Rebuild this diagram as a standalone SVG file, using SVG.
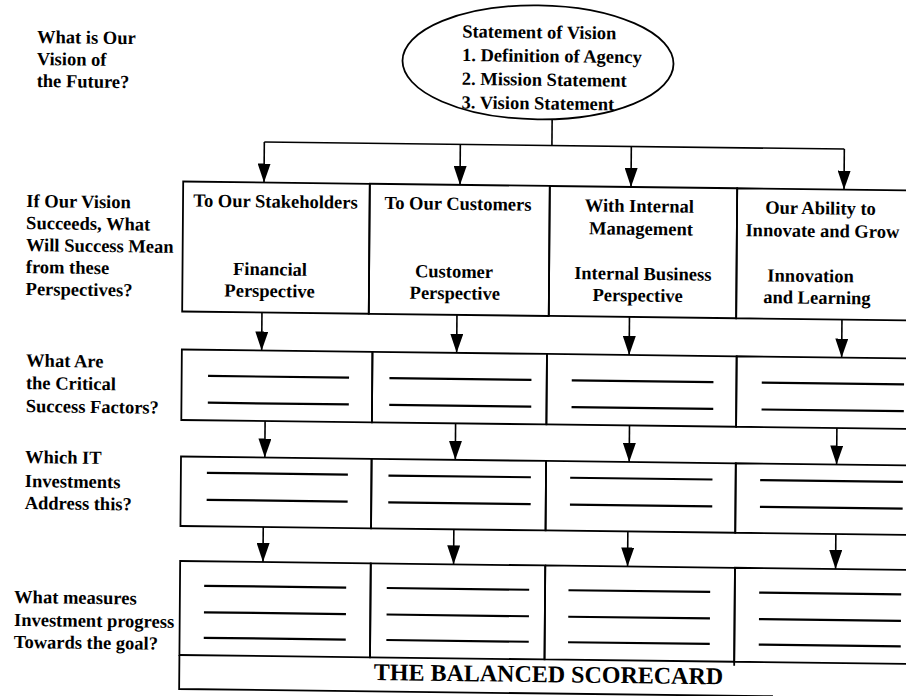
<svg xmlns="http://www.w3.org/2000/svg" width="906" height="696" viewBox="0 0 906 696">
  <defs>
    <marker id="ah" viewBox="0 0 19 13" markerWidth="19" markerHeight="13" refX="19" refY="6.5" orient="auto" markerUnits="userSpaceOnUse">
      <path d="M0,0 L19,6.5 L0,13 z" fill="#000"/>
    </marker>
    <style>
      text { font-family: "Liberation Serif", "Times New Roman", serif; font-weight: bold; font-size: 18.5px; fill: #000; }
      .mid { text-anchor: middle; }
      .banner { font-size: 24px; }
      .box { fill: none; stroke: #000; stroke-width: 1.8; }
      .blank { stroke: #000; stroke-width: 2.2; }
      .conn { fill: none; stroke: #000; stroke-width: 1.6; }
      .arrow { fill: none; stroke: #000; stroke-width: 1.6; marker-end: url(#ah); }
    </style>
  </defs>
  <rect x="0" y="0" width="906" height="696" fill="#fff"/>
  <g transform="matrix(1 0.0122 -0.008 1 1.456 -2.233)">

    <!-- question labels -->
    <g id="q-vision">
      <text x="35.9" y="44.8">What is Our</text>
      <text x="35.9" y="66.8">Vision of</text>
      <text x="35.9" y="88.8">the Future?</text>
    </g>
    <g id="q-success">
      <text x="26.5" y="209">If Our Vision</text>
      <text x="26.5" y="231">Succeeds, What</text>
      <text x="26.5" y="253">Will Success Mean</text>
      <text x="26.5" y="275">from these</text>
      <text x="26.5" y="297">Perspectives?</text>
    </g>
    <g id="q-csf">
      <text x="27.6" y="368.5">What Are</text>
      <text x="27.6" y="391">the Critical</text>
      <text x="27.6" y="414">Success Factors?</text>
    </g>
    <g id="q-it">
      <text x="27.3" y="465">Which IT</text>
      <text x="27.3" y="489">Investments</text>
      <text x="27.3" y="511">Address this?</text>
    </g>
    <g id="q-measures">
      <text x="17.5" y="605">What measures</text>
      <text x="17.5" y="628">Investment progress</text>
      <text x="17.5" y="650">Towards the goal?</text>
    </g>

    <!-- vision ellipse -->
    <g id="vision">
      <ellipse cx="537" cy="58" rx="135.5" ry="57" fill="#fff" stroke="#000" stroke-width="1.8"/>
      <text x="461" y="34">Statement of Vision</text>
      <text x="461" y="57.7">1. Definition of Agency</text>
      <text x="461" y="81.4">2. Mission Statement</text>
      <text x="461" y="105.1">3. Vision Statement</text>
    </g>

    <!-- row 1: perspectives -->
    <g id="persp-financial">
      <rect class="box" x="183.2" y="181.5" width="186.6" height="130"/>
      <text class="mid" x="275.7" y="206.5">To Our Stakeholders</text>
      <text class="mid" x="270.7" y="274.3">Financial</text>
      <text class="mid" x="270.5" y="296">Perspective</text>
    </g>
    <g id="persp-customer">
      <rect class="box" x="369.8" y="181.5" width="180" height="130"/>
      <text class="mid" x="458.2" y="206.5">To Our Customers</text>
      <text class="mid" x="454.7" y="274.3">Customer</text>
      <text class="mid" x="455.7" y="296">Perspective</text>
    </g>
    <g id="persp-internal">
      <rect class="box" x="549.8" y="181.5" width="187.4" height="130"/>
      <text class="mid" x="639.5" y="206.5">With Internal</text>
      <text class="mid" x="641.4" y="229.3">Management</text>
      <text class="mid" x="643.5" y="274.3">Internal Business</text>
      <text class="mid" x="638.5" y="296">Perspective</text>
    </g>
    <g id="persp-innovation">
      <path class="box" d="M915,181.5 H737.2 V311.5 H915"/>
      <text class="mid" x="820.7" y="206.5">Our Ability to</text>
      <text class="mid" x="822.7" y="229.3">Innovate and Grow</text>
      <text class="mid" x="811.3" y="274.3">Innovation</text>
      <text class="mid" x="817.8" y="296">and Learning</text>
    </g>

    <!-- row 2: critical success factors -->
    <g id="csf-1">
      <rect class="box" x="183.2" y="349.5" width="190.6" height="70.5"/>
      <line class="blank" x1="209.6" y1="375.6" x2="350.6" y2="375.6"/>
      <line class="blank" x1="209.6" y1="402.4" x2="350.6" y2="402.4"/>
    </g>
    <g id="csf-2">
      <rect class="box" x="373.8" y="349.5" width="174.5" height="70.5"/>
      <line class="blank" x1="391" y1="375.6" x2="533" y2="375.6"/>
      <line class="blank" x1="391" y1="402.4" x2="533" y2="402.4"/>
    </g>
    <g id="csf-3">
      <rect class="box" x="548.3" y="349.5" width="189.7" height="70.5"/>
      <line class="blank" x1="573.3" y1="375.6" x2="715" y2="375.6"/>
      <line class="blank" x1="573.3" y1="402.4" x2="715" y2="402.4"/>
    </g>
    <g id="csf-4">
      <path class="box" d="M915,349.5 H738 V420 H915"/>
      <line class="blank" x1="763.3" y1="375.6" x2="905.6" y2="375.6"/>
      <line class="blank" x1="763.3" y1="402.4" x2="905.6" y2="402.4"/>
    </g>

    <!-- row 3: IT investments -->
    <g id="it-1">
      <rect class="box" x="183.2" y="456.5" width="190.6" height="69.5"/>
      <line class="blank" x1="209.2" y1="472.5" x2="350.2" y2="472.5"/>
      <line class="blank" x1="209.2" y1="499.5" x2="350.2" y2="499.5"/>
    </g>
    <g id="it-2">
      <rect class="box" x="373.8" y="456.5" width="174.5" height="69.5"/>
      <line class="blank" x1="390.8" y1="473" x2="533.2" y2="473"/>
      <line class="blank" x1="390.8" y1="499.8" x2="533.2" y2="499.8"/>
    </g>
    <g id="it-3">
      <rect class="box" x="548.3" y="456.5" width="189.7" height="69.5"/>
      <line class="blank" x1="572.5" y1="473" x2="714.8" y2="473"/>
      <line class="blank" x1="572.5" y1="499.8" x2="714.8" y2="499.8"/>
    </g>
    <g id="it-4">
      <path class="box" d="M915,456.5 H738 V526 H915"/>
      <line class="blank" x1="762.5" y1="473" x2="905.2" y2="473"/>
      <line class="blank" x1="762.5" y1="499.8" x2="905.2" y2="499.8"/>
    </g>

    <!-- row 4: measures -->
    <g id="measure-1">
      <rect class="box" x="183.2" y="561" width="190.6" height="94"/>
      <line class="blank" x1="207.4" y1="585.5" x2="349.4" y2="585.5"/>
      <line class="blank" x1="207.4" y1="612" x2="349.4" y2="612"/>
      <line class="blank" x1="207.4" y1="637.5" x2="349.4" y2="637.5"/>
    </g>
    <g id="measure-2">
      <rect class="box" x="373.8" y="561" width="174.5" height="94"/>
      <line class="blank" x1="390" y1="585.5" x2="532.4" y2="585.5"/>
      <line class="blank" x1="390" y1="612" x2="532.4" y2="612"/>
      <line class="blank" x1="390" y1="637.5" x2="532.4" y2="637.5"/>
    </g>
    <g id="measure-3">
      <path class="box" d="M548.3,561 H738 V659 M738,655 H548.3 V561"/>
      <line class="blank" x1="571.7" y1="585.5" x2="713.4" y2="585.5"/>
      <line class="blank" x1="571.7" y1="612" x2="713.4" y2="612"/>
      <line class="blank" x1="571.7" y1="637.5" x2="713.4" y2="637.5"/>
    </g>
    <g id="measure-4">
      <path class="box" d="M915,561 H738 V655 H915"/>
      <line class="blank" x1="762.4" y1="585.5" x2="904.4" y2="585.5"/>
      <line class="blank" x1="762.4" y1="612" x2="904.4" y2="612"/>
      <line class="blank" x1="762.4" y1="637.5" x2="904.4" y2="637.5"/>
    </g>

    <!-- banner -->
    <g id="balanced-scorecard">
      <path class="box" d="M183.2,655 V689 H777"/>
      <text class="mid banner" x="552.4" y="677.7">THE BALANCED SCORECARD</text>
    </g>

    <!-- connectors -->
    <g id="connectors">
      <line class="conn" x1="551.6" y1="114.7" x2="551.6" y2="141"/>
      <line class="conn" x1="264" y1="141" x2="844" y2="141"/>
      <line class="arrow" x1="264" y1="141" x2="264" y2="181.5"/>
      <line class="arrow" x1="460" y1="141" x2="460" y2="181.5"/>
      <line class="arrow" x1="631" y1="141" x2="631" y2="181.5"/>
      <line class="arrow" x1="844" y1="141" x2="844" y2="181.5"/>

      <line class="arrow" x1="263" y1="311.5" x2="263" y2="349.5"/>
      <line class="arrow" x1="458" y1="311.5" x2="458" y2="349.5"/>
      <line class="arrow" x1="630.5" y1="311.5" x2="630.5" y2="349.5"/>
      <line class="arrow" x1="843" y1="311.5" x2="843" y2="349.5"/>

      <line class="arrow" x1="267" y1="420" x2="267" y2="456.5"/>
      <line class="arrow" x1="457.5" y1="420" x2="457.5" y2="456.5"/>
      <line class="arrow" x1="631.4" y1="420" x2="631.4" y2="456.5"/>
      <line class="arrow" x1="838.8" y1="420" x2="838.8" y2="456.5"/>

      <line class="arrow" x1="266" y1="526" x2="266" y2="561"/>
      <line class="arrow" x1="456.6" y1="526" x2="456.6" y2="561"/>
      <line class="arrow" x1="630.6" y1="526" x2="630.6" y2="561"/>
      <line class="arrow" x1="838.6" y1="526" x2="838.6" y2="561"/>
    </g>
  </g>
</svg>
